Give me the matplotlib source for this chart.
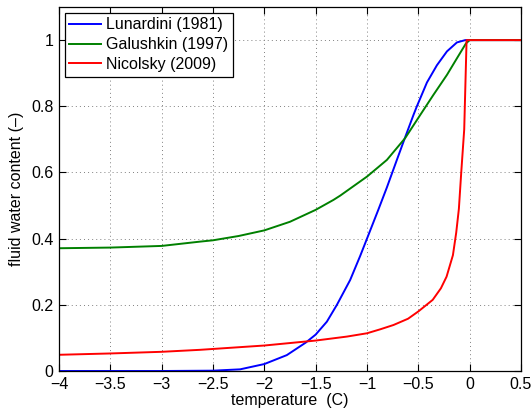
import matplotlib
matplotlib.use("Agg")
import matplotlib.pyplot as plt
from matplotlib.ticker import FuncFormatter

plt.rcParams['font.family'] = ['Liberation Sans', 'DejaVu Sans']
plt.rcParams['font.size'] = 11.5

# values
lun_t = [-4, -3, -2.5, -2.236, -2.0, -1.781, -1.596, -1.5, -1.391, -1.293, -1.164,
         -1.066, -1.0, -0.89, -0.806, -0.709, -0.63, -0.547, -0.514, -0.416,
         -0.319, -0.221, -0.124, -0.043, 0.5]
lun_w = [0, 0, 0.001, 0.005, 0.021, 0.048, 0.086, 0.11, 0.149, 0.2, 0.275,
         0.348, 0.4, 0.487, 0.555, 0.638, 0.705, 0.774, 0.8, 0.872,
         0.924, 0.966, 0.993, 1.0, 1.0]

gal_t = [-4, -3.5, -3, -2.626, -2.5, -2.25, -2, -1.75, -1.5, -1.327, -1.261, -0.998,
         -0.806, -0.628, -0.481, -0.352, -0.221, -0.124, -0.036, 0, 0.5]
gal_w = [0.371, 0.373, 0.378, 0.391, 0.395, 0.408, 0.425, 0.451, 0.487, 0.517, 0.53,
         0.588, 0.638, 0.704, 0.774, 0.835, 0.895, 0.945, 0.99, 1.0, 1.0]

nic_t = [-4, -3.5, -3, -2.626, -2, -1.5, -1.196, -1.0, -0.871, -0.742, -0.6, -0.5,
         -0.36, -0.28, -0.225, -0.163, -0.131, -0.105, -0.082, -0.053, -0.03, 0.5]
nic_w = [0.049, 0.053, 0.058, 0.064, 0.077, 0.092, 0.104, 0.114, 0.126, 0.139, 0.158,
         0.18, 0.215, 0.25, 0.285, 0.35, 0.418, 0.49, 0.6, 0.73, 1.0, 1.0]

x_ticks = [-4, -3.5, -3, -2.5, -2, -1.5, -1, -0.5, 0, 0.5]
y_ticks = [0, 0.2, 0.4, 0.6, 0.8, 1]

fig = plt.figure(figsize=(5.32, 4.13), dpi=100)
ax = fig.add_axes([0.1109, 0.1017, 0.8684, 0.8813])

ax.plot(lun_t, lun_w, color='#0000ff', lw=1.4, label='Lunardini (1981)')
ax.plot(gal_t, gal_w, color='#008000', lw=1.4, label='Galushkin (1997)')
ax.plot(nic_t, nic_w, color='#ff0000', lw=1.4, label='Nicolsky (2009)')

ax.set_xlim(-4, 0.5)
ax.set_ylim(0, 1.1)
ax.set_xticks(x_ticks)
ax.set_yticks(y_ticks)
fmt = FuncFormatter(lambda v, p: f"{v:g}".replace('-', '\u2212'))
ax.xaxis.set_major_formatter(fmt)
ax.yaxis.set_major_formatter(fmt)
ax.tick_params(direction='in', top=True, right=True, length=5, width=0.8,
               labelsize=11.5, pad=4)
for s in ax.spines.values():
    s.set_linewidth(0.9)
    s.set_color('black')

ax.grid(True, linestyle=(0, (1, 3.2)), color='0.5', linewidth=0.7)
ax.set_axisbelow(True)

ax.set_xlabel('temperature  (C)', fontsize=11.5, labelpad=1)
ax.set_ylabel('fluid water content (\u2013)', fontsize=11.5, labelpad=5)

leg = ax.legend(loc='upper left', fancybox=False, framealpha=1, edgecolor='black',
                fontsize=11.5, borderaxespad=0.35, handlelength=2.0,
                labelspacing=0.3, borderpad=0.3, handletextpad=0.3)
leg.get_frame().set_linewidth(0.9)

fig.savefig('out.png', dpi=100)
